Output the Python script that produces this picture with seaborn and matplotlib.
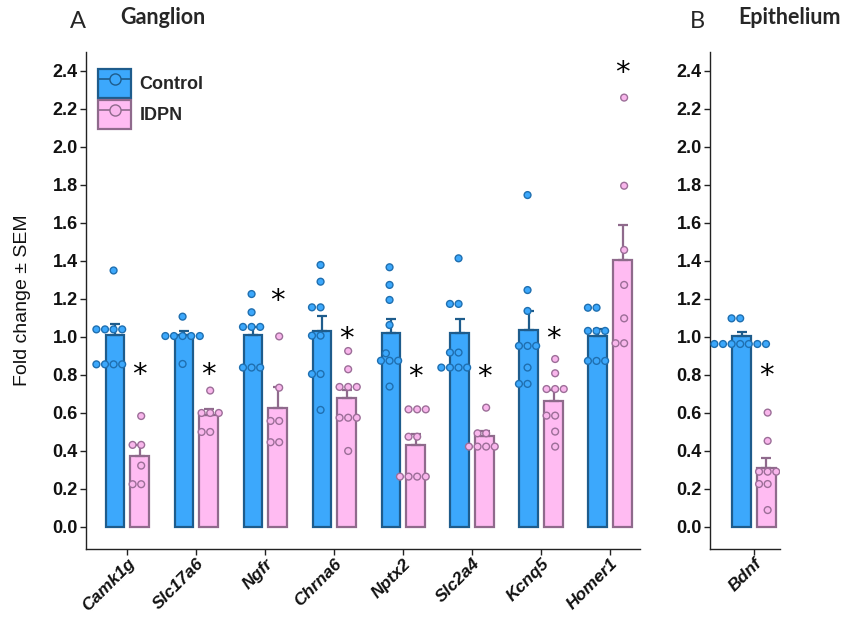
import numpy as np
import pandas as pd
import matplotlib
matplotlib.use("Agg")
import matplotlib.pyplot as plt
import seaborn as sns
from matplotlib.patches import Patch
from matplotlib.lines import Line2D

# ---------------- data ----------------
genes_a = ['Camk1g', 'Slc17a6', 'Ngfr', 'Chrna6', 'Nptx2', 'Slc2a4', 'Kcnq5', 'Homer1']
genes_b = ['Bdnf']
groups = ['Control', 'IDPN']

ctrl_mean_a = [1.01, 1.01, 1.01, 1.03, 1.02, 1.02, 1.035, 1.005]
ctrl_sem_a = [0.06, 0.02, 0.04, 0.08, 0.074, 0.075, 0.10, 0.035]
idpn_mean_a = [0.375, 0.589, 0.628, 0.681, 0.432, 0.479, 0.665, 1.405]
idpn_sem_a = [0.055, 0.03, 0.11, 0.04, 0.058, 0.025, 0.055, 0.184]

ctrl_pts_a = [
    [1.35, 1.04, 1.04, 1.04, 1.04, 0.856, 0.856, 0.856, 0.856],
    [1.107, 1.005, 1.005, 1.005, 1.005, 1.005, 0.858],
    [1.226, 1.13, 1.053, 1.053, 1.053, 0.839, 0.839, 0.839],
    [1.379, 1.291, 1.156, 1.156, 1.007, 1.007, 0.805, 0.805, 0.616],
    [1.367, 1.274, 1.195, 1.063, 0.914, 0.875, 0.875, 0.875, 0.739],
    [1.414, 1.174, 1.174, 0.918, 0.918, 0.839, 0.839, 0.839, 0.839],
    [1.747, 1.247, 1.137, 0.953, 0.953, 0.953, 0.839, 0.753, 0.753],
    [1.154, 1.154, 1.032, 1.032, 1.032, 0.874, 0.874, 0.874],
]
idpn_pts_a = [
    [0.584, 0.432, 0.432, 0.323, 0.225, 0.225],
    [0.718, 0.60, 0.60, 0.60, 0.50, 0.50],
    [1.003, 0.733, 0.558, 0.558, 0.446, 0.446],
    [0.926, 0.83, 0.737, 0.737, 0.737, 0.575, 0.575, 0.575, 0.40],
    [0.619, 0.619, 0.619, 0.475, 0.475, 0.265, 0.265, 0.265, 0.265],
    [0.628, 0.493, 0.493, 0.423, 0.423, 0.423, 0.423],
    [0.884, 0.809, 0.726, 0.726, 0.726, 0.586, 0.586, 0.502, 0.423],
    [2.26, 1.796, 1.458, 1.274, 1.098, 0.967, 0.967],
]
stars_a = [0.84, 0.84, 1.23, 1.03, 0.83, 0.83, 1.03, 2.43]

ctrl_mean_b = [1.005]
ctrl_sem_b = [0.02]
idpn_mean_b = [0.312]
idpn_sem_b = [0.053]
ctrl_pts_b = [[1.098, 1.098, 0.963, 0.963, 0.963, 0.963, 0.963, 0.963, 0.963]]
idpn_pts_b = [[0.602, 0.453, 0.291, 0.291, 0.291, 0.226, 0.226, 0.089]]
stars_b = [0.835]

y_ticks = [0.0, 0.2, 0.4, 0.6, 0.8, 1.0, 1.2, 1.4, 1.6, 1.8, 2.0, 2.2, 2.4]

# ---------------- style ----------------
bar_fill = {'Control': '#3CA8FC', 'IDPN': '#FFBBF2'}
bar_edge = {'Control': '#1E5C8C', 'IDPN': '#8F6A8C'}
pt_fill = {'Control': '#3CA8FC', 'IDPN': '#F9B6EC'}
pt_edge = {'Control': '#1F6FB0', 'IDPN': '#9C6E98'}

sns.set_theme(style='ticks')
plt.rcParams['font.family'] = ['Liberation Sans', 'DejaVu Sans']
SANS = ['Liberation Sans', 'DejaVu Sans']

fig = plt.figure(figsize=(8.43, 6.17), dpi=100)
W, H = 843, 617
def fx(px):
    return px / W
def fy(py):
    return 1 - py / H

ax_a = fig.add_axes([fx(86), fy(549), fx(640) - fx(86), fy(52) - fy(549)])
ax_b = fig.add_axes([fx(710), fy(549), fx(780) - fx(710), fy(52) - fy(549)])


def draw_panel(ax, genes, cm, cs, im, isem, cpts, ipts, stars, xlim):
    n = len(genes)
    bars = pd.DataFrame({
        'gene': genes + genes,
        'group': ['Control'] * n + ['IDPN'] * n,
        'mean': cm + im,
    })
    sns.barplot(data=bars, x='gene', y='mean', hue='group', order=genes,
                hue_order=groups, palette=bar_fill, saturation=1,
                width=0.72, gap=0.24, errorbar=None, linewidth=1.6,
                legend=False, ax=ax, zorder=1)
    sems = {'Control': cs, 'IDPN': isem}
    centers = {}
    for grp, cont in zip(groups, ax.containers):
        xs, hs = [], []
        for bar in cont:
            bar.set_edgecolor(bar_edge[grp])
            bar.set_linewidth(1.6)
            xs.append(bar.get_x() + bar.get_width() / 2)
            hs.append(bar.get_height())
        centers[grp] = xs
        ax.errorbar(xs, hs, yerr=[np.zeros(n), sems[grp]], fmt='none',
                    ecolor=bar_edge[grp], elinewidth=1.6, capsize=3.5,
                    capthick=1.6, zorder=2)

    rows = []
    for g, pc, pi in zip(genes, cpts, ipts):
        rows += [(g, 'Control', v) for v in pc]
        rows += [(g, 'IDPN', v) for v in pi]
    pts = pd.DataFrame(rows, columns=['gene', 'group', 'value'])
    ncoll = len(ax.collections)
    sns.swarmplot(data=pts, x='gene', y='value', hue='group', order=genes,
                  hue_order=groups, palette=pt_fill, dodge=True, size=4.9,
                  linewidth=1.0, legend=False, ax=ax, warn_thresh=1)
    for coll in ax.collections[ncoll:]:
        fc = coll.get_facecolor()
        if len(fc) == 0:
            continue
        r = fc[0][0]
        grp = 'Control' if r < 0.5 else 'IDPN'
        coll.set_edgecolor(pt_edge[grp])
        coll.set_linewidth(1.0)
        coll.set_zorder(3)

    for x, s in zip(centers['IDPN'], stars):
        ax.annotate('*', (x, s), xytext=(0, -11), textcoords='offset points',
                    ha='center', va='baseline', fontsize=21,
                    family='DejaVu Sans', color='black', zorder=4)

    ax.set_xlim(*xlim)
    ax.set_ylim(-0.116, 2.5)
    ax.set_yticks(y_ticks)
    ax.set_yticklabels([f'{t:.1f}' for t in y_ticks], fontsize=13,
                       fontweight='bold', family=SANS)
    ax.set_xticks(range(n))
    ax.set_xticklabels(genes, rotation=45, ha='right', rotation_mode='anchor',
                       fontsize=12.5, fontweight='bold', fontstyle='italic',
                       family=SANS)
    ax.set_xlabel('')
    ax.set_ylabel('')
    sns.despine(ax=ax)
    for sp in ['left', 'bottom']:
        ax.spines[sp].set_linewidth(1.0)
        ax.spines[sp].set_color('#222222')
    ax.tick_params(axis='both', direction='out', length=4, width=1.0,
                   color='#222222', labelcolor='#111111', pad=2)
    ax.tick_params(axis='x', pad=1)


draw_panel(ax_a, genes_a, ctrl_mean_a, ctrl_sem_a, idpn_mean_a, idpn_sem_a,
           ctrl_pts_a, idpn_pts_a, stars_a, (-0.6, 7.43))
draw_panel(ax_b, genes_b, ctrl_mean_b, ctrl_sem_b, idpn_mean_b, idpn_sem_b,
           ctrl_pts_b, idpn_pts_b, stars_b, (-0.64, 0.38))

ax_a.set_ylabel('Fold change ± SEM', fontsize=14, family=SANS, color='#111111')
ax_a.yaxis.set_label_coords((31 - 86) / (640 - 86), 0.5)

# legend
handles = []
for grp in groups:
    handles.append((Patch(facecolor=bar_fill[grp], edgecolor=bar_edge[grp], linewidth=1.6),
                    Line2D([], [], color=bar_edge[grp], lw=1.2, marker='o',
                           markersize=8, markerfacecolor=pt_fill[grp],
                           markeredgecolor=bar_edge[grp], markeredgewidth=1.0)))
ax_a.legend(handles=handles, labels=groups, loc='upper left',
            bbox_to_anchor=((98 - 86) / (640 - 86), (549 - 69) / (549 - 52)),
            frameon=False, handlelength=1.85, handleheight=2.1, borderpad=0,
            borderaxespad=0, labelspacing=0.1, handletextpad=0.45,
            prop=dict(weight='bold', size=13, family=SANS))

# panel titles
fig.text(fx(78), fy(21), 'A', ha='center', va='center', fontsize=17, family='Lato')
fig.text(fx(120), fy(18), 'Ganglion', ha='left', va='center', fontsize=15.5,
         family='Lato', fontweight='bold')
fig.text(fx(697), fy(21), 'B', ha='center', va='center', fontsize=17, family='Lato')
fig.text(fx(738), fy(18), 'Epithelium', ha='left', va='center', fontsize=15.5,
         family='Lato', fontweight='bold')

fig.savefig('out.png', dpi=100)
